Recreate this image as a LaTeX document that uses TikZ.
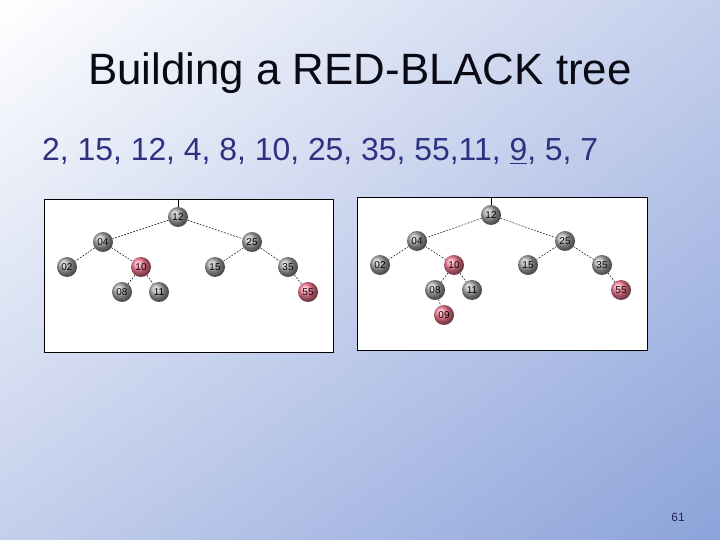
\documentclass[tikz,border=0pt]{standalone}
\usepackage{fontspec}
\setmainfont{Liberation Sans}
\usetikzlibrary{shadings}
\usepackage{xcolor}
\definecolor{bgTop}   {RGB}{255, 255, 255}
\definecolor{bgSide}  {RGB}{196, 207, 236}
\definecolor{bgDeep}  {RGB}{140, 163, 218}
\definecolor{txtBlue} {RGB}{48,  48,  128}
\definecolor{txtDark} {RGB}{10,  10,  20}
\definecolor{ballGray}{RGB}{170, 170, 170}
\definecolor{ballRed} {RGB}{250, 125, 150}

\begin{document}
\begin{tikzpicture}[
  x=1bp, y=-1bp,
  panel/.style = {draw=black, line width=0.9bp, fill=white},
  bnode/.style = {
    circle, shade, inner sep=0pt, minimum size=20bp,
    font=\fontsize{10}{10}\selectfont, text=black
  },
  blknode/.style = {bnode, ball color=ballGray},
  rednode/.style = {bnode, ball color=ballRed},
  edge/.style = {black, line width=0.5bp, dash pattern=on 1.8bp off 1.4bp}
]
  \useasboundingbox (0,0) rectangle (720,540);
  \shade[upper left=bgTop, upper right=bgSide, lower left=bgSide,
         lower right=bgDeep] (0,0) rectangle (720,540);

  % Title and key sequence
  \node[anchor=base, font=\fontsize{44}{44}\selectfont, text=txtDark]
    (title) at (360,85) {Building a RED-BLACK tree};
  \node[anchor=base west, inner sep=0pt, font=\fontsize{32}{32}\selectfont,
    text=txtBlue] (keys) at (42,161)
    {2, 15, 12, 4, 8, 10, 25, 35, 55,11, \underline{9}, 5, 7};

  % Left panel: before inserting 9
  \draw[panel] (44,199) rectangle (333,352);
  \coordinate (aTop) at (178,199.5);
  \node[blknode] (a12) at (178,217) {12};
  \node[blknode] (a04) at (103,242) {04};
  \node[blknode] (a25) at (252,242) {25};
  \node[blknode] (a02) at (67,267)  {02};
  \node[rednode] (a10) at (141,267) {10};
  \node[blknode] (a15) at (215,267) {15};
  \node[blknode] (a35) at (288,267) {35};
  \node[blknode] (a08) at (122,292) {08};
  \node[blknode] (a11) at (159,292) {11};
  \node[rednode] (a55) at (308,292) {55};

  \draw[line width=0.6bp] (aTop) -- (a12);
  \draw[edge] (a12) -- (a04);
  \draw[edge] (a12) -- (a25);
  \draw[edge] (a04) -- (a02);
  \draw[edge] (a04) -- (a10);
  \draw[edge] (a10) -- (a08);
  \draw[edge] (a10) -- (a11);
  \draw[edge] (a25) -- (a15);
  \draw[edge] (a25) -- (a35);
  \draw[edge] (a35) -- (a55);

  % Right panel: 9 added under 8
  \draw[panel] (357,197) rectangle (647,350);
  \coordinate (bTop) at (491,197.5);
  \node[blknode] (b12) at (491,215) {12};
  \node[blknode] (b04) at (417,241) {04};
  \node[blknode] (b25) at (565,241) {25};
  \node[blknode] (b02) at (380,265) {02};
  \node[rednode] (b10) at (454,265) {10};
  \node[blknode] (b15) at (528,265) {15};
  \node[blknode] (b35) at (602,265) {35};
  \node[blknode] (b08) at (435,290) {08};
  \node[blknode] (b11) at (472,290) {11};
  \node[rednode] (b55) at (621,290) {55};
  \node[rednode] (b09) at (444,315) {09};

  \draw[line width=0.6bp] (bTop) -- (b12);
  \draw[edge] (b12) -- (b04);
  \draw[edge] (b12) -- (b25);
  \draw[edge] (b04) -- (b02);
  \draw[edge] (b04) -- (b10);
  \draw[edge] (b10) -- (b08);
  \draw[edge] (b10) -- (b11);
  \draw[edge] (b08) -- (b09);
  \draw[edge] (b25) -- (b15);
  \draw[edge] (b25) -- (b35);
  \draw[edge] (b35) -- (b55);

  % Slide number
  \node[anchor=base, font=\fontsize{12}{12}\selectfont, text=txtBlue!70!black]
    (page) at (678,521) {61};
\end{tikzpicture}
\end{document}
